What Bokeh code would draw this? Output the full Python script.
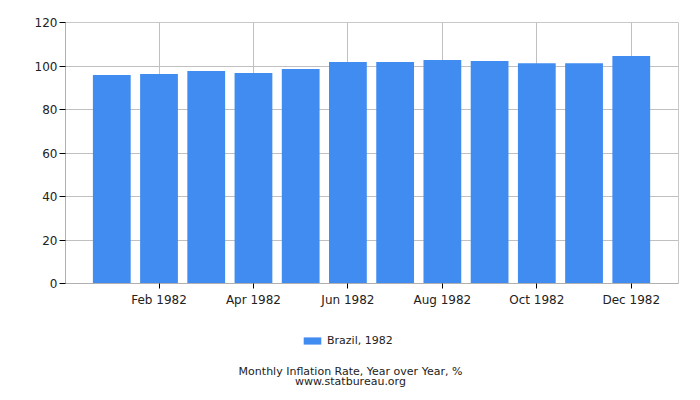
from bokeh.plotting import figure
from bokeh.layouts import column
from bokeh.models import Range1d, FixedTicker, Legend, LegendItem, Label, ColumnDataSource
from bokeh.embed import file_html
from bokeh.resources import INLINE

months = ["Jan 1982", "Feb 1982", "Mar 1982", "Apr 1982", "May 1982", "Jun 1982",
          "Jul 1982", "Aug 1982", "Sep 1982", "Oct 1982", "Nov 1982", "Dec 1982"]
values = [95.9, 96.3, 97.7, 96.8, 98.6, 101.8, 101.8, 102.8, 102.3, 101.3, 101.3, 104.6]
tick_labels = ["Feb 1982", "Apr 1982", "Jun 1982", "Aug 1982", "Oct 1982", "Dec 1982"]
y_ticks = [0, 20, 40, 60, 80, 100, 120]
series_name = "Brazil, 1982"
caption = "Monthly Inflation Rate, Year over Year, %"
source_text = "www.statbureau.org"
bar_color = "#418cf0"
FONT = "DejaVu Sans"
TEXT_COLOR = "#222222"

W = 692
LEFT, RIGHT = 65, 14
idx = list(range(len(months)))
src = ColumnDataSource(dict(x=idx, top=values, month=months))

p = figure(width=W, height=310, output_backend="svg", toolbar_location=None,
           x_range=Range1d(-0.98, 12.0), y_range=Range1d(0, 120),
           min_border_left=LEFT, min_border_right=RIGHT, min_border_top=22, min_border_bottom=27)

r = p.vbar(x="x", top="top", width=0.8, source=src, fill_color=bar_color, line_color=None)

tick_pos = [-1] + [months.index(t) for t in tick_labels]
p.xaxis.ticker = FixedTicker(ticks=tick_pos)
overrides = {-1: ""}
for t in tick_labels:
    overrides[months.index(t)] = t
p.xaxis.major_label_overrides = overrides
p.yaxis.ticker = FixedTicker(ticks=y_ticks)

for ax in (p.xaxis, p.yaxis):
    ax.axis_line_color = "#b0b0b0"
    ax.major_tick_line_color = "black"
    ax.minor_tick_line_color = None
    ax.major_tick_in = 0
    ax.major_tick_out = 6
    ax.major_label_text_font = FONT
    ax.major_label_text_font_size = "12px"
    ax.major_label_text_color = TEXT_COLOR
p.xaxis.major_tick_out = 5
p.xaxis.major_label_standoff = 4
p.yaxis.major_label_standoff = 2

p.xgrid.grid_line_color = "#c0c0c0"
p.ygrid.grid_line_color = "#c0c0c0"
p.outline_line_color = "#c8c8c8"
p.background_fill_color = "white"
p.border_fill_color = "white"

# lower panel: legend and captions; its frame is aligned with the main frame,
# and its ranges are expressed in page pixels
H2 = 82
f2 = figure(width=W, height=H2, output_backend="svg", toolbar_location=None,
            x_range=Range1d(LEFT, W - RIGHT), y_range=Range1d(0, H2),
            min_border_left=LEFT, min_border_right=RIGHT, min_border_top=0, min_border_bottom=0,
            outline_line_color=None)
f2.axis.visible = False
f2.grid.visible = False
f2.border_fill_color = "white"
f2.background_fill_color = "white"

swatch = f2.vbar(x="x", top="top", width=0.8, source=src, fill_color=bar_color,
                 line_color=None, visible=False)
legend = Legend(items=[LegendItem(label=series_name, renderers=[swatch])],
                location=(236, 45), orientation="horizontal",
                label_text_font=FONT, label_text_font_size="11px", label_text_color=TEXT_COLOR,
                glyph_width=22, glyph_height=9, label_standoff=4,
                border_line_color=None, background_fill_alpha=0,
                margin=0, padding=0, spacing=0)
f2.add_layout(legend, "center")

for txt, yy in ((caption, 21), (source_text, 11)):
    f2.add_layout(Label(x=350, y=yy, text=txt,
                        text_align="center", text_baseline="middle",
                        text_font=FONT, text_font_size="11px", text_color=TEXT_COLOR))

layout = column(p, f2, spacing=0)
open("out.html", "w").write(file_html(layout, INLINE))
